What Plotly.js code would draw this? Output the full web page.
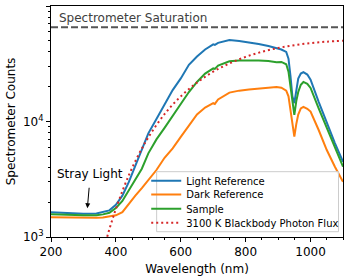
<!DOCTYPE html>
<html>
<head>
<meta charset="utf-8">
<script src="https://cdn.plot.ly/plotly-3.0.1.min.js"></script>
<style>html,body{margin:0;padding:0;background:#fff;}#chart{width:346px;height:278px;}</style>
</head>
<body>
<div id="chart"></div>
<script>
// Wavelength grid (nm) for measured spectra
const wavelength = [200, 250, 300, 340, 360, 380, 400, 420, 440, 460, 480, 500, 525, 550, 575, 600, 625, 650, 675, 700, 705, 715, 750, 780, 810, 840, 870, 885, 895, 910, 925, 932, 938, 944, 950, 956, 962, 970, 978, 990, 1000, 1025, 1050, 1075, 1100];
const lightReference = [1640, 1610, 1590, 1600, 1640, 1700, 1900, 2280, 3000, 4150, 5750, 7900, 10500, 14200, 18700, 23600, 31000, 36500, 42000, 46500, 46000, 48000, 50800, 49800, 48500, 46800, 45000, 44000, 43500, 42000, 40000, 35000, 25000, 16500, 14400, 19000, 23500, 26000, 26800, 25500, 23000, 14800, 9700, 6500, 4480];
const darkReference = [1480, 1470, 1460, 1465, 1475, 1500, 1540, 1640, 1950, 2280, 2650, 3100, 3800, 4850, 5850, 7350, 9200, 11500, 13200, 14400, 14200, 15500, 17800, 18500, 18900, 19300, 19600, 19700, 19900, 19600, 18500, 16500, 13000, 9500, 7400, 9500, 11500, 13000, 13400, 12900, 12200, 8440, 5660, 4060, 3010];
const sample = [1570, 1550, 1540, 1545, 1570, 1620, 1780, 2050, 2550, 3150, 3900, 5300, 7000, 8800, 11200, 14200, 18000, 22000, 26000, 28800, 28500, 30500, 33200, 33800, 34000, 33700, 33400, 33000, 32600, 32800, 31300, 27000, 20000, 14000, 11400, 15000, 18000, 20800, 22000, 21200, 19500, 13000, 8730, 6050, 4060];
// 3100 K blackbody photon flux (scaled)
const bbWavelength = [365, 373, 380, 390, 400, 420, 440, 460, 480, 500, 550, 600, 650, 700, 750, 800, 850, 900, 950, 1000, 1050, 1100];
const bbFlux = [830, 1000, 1170, 1440, 1750, 2500, 3430, 4540, 5830, 7300, 11600, 16500, 21700, 27000, 31800, 36300, 40100, 43300, 45800, 47700, 49100, 50000];
// Saturation level
const saturationX = [200, 1100];
const saturationY = [65535, 65535];
const seriesNames = ["Light Reference", "Dark Reference", "Sample", "3100 K Blackbody Photon Flux"];
const xTicks = [200, 400, 600, 800, 1000];
const yTicks = [1000, 10000, 100000];
const yTickText = ["10<sup>3</sup>", "10<sup>4</sup>", "10<sup>5</sup>"];
const yMinor = [2000,3000,4000,5000,6000,7000,8000,9000,20000,30000,40000,50000,60000,70000,80000,90000];

const font = "DejaVu Sans, sans-serif";
const traces = [
  {x: saturationX, y: saturationY, mode: "lines", showlegend: false, hoverinfo: "skip",
   line: {color: "#555555", width: 2, dash: "7px,3px"}},
  {x: wavelength, y: lightReference, name: seriesNames[0], mode: "lines", legend: "legend", line: {color: "#1f77b4", width: 2}},
  {x: wavelength, y: darkReference, name: seriesNames[1], mode: "lines", legend: "legend2", line: {color: "#ff7f0e", width: 2}},
  {x: wavelength, y: sample, name: seriesNames[2], mode: "lines", legend: "legend3", line: {color: "#2ca02c", width: 2}},
  {x: bbWavelength, y: bbFlux, name: seriesNames[3], mode: "lines", legend: "legend4", line: {color: "#d62728", width: 2, dash: "2px,3px", shape: "spline"}}
];
function leg(yc) {
  return {x: 0.325, y: yc, xanchor: "left", yanchor: "middle", bgcolor: "rgba(0,0,0,0)", borderwidth: 0,
    font: {family: font, size: 10, color: "#000"}, itemwidth: 30};
}
const layout = {
  width: 346, height: 278,
  margin: {l: 51, r: 2, t: 6, b: 41},
  paper_bgcolor: "#fff", plot_bgcolor: "#fff",
  font: {family: font, size: 12, color: "#000"},
  showlegend: true,
  legend: leg(0.2437), legend2: leg(0.184), legend3: leg(0.1225), legend4: leg(0.0619),
  shapes: [
    {type: "rect", xref: "paper", yref: "paper", x0: 0.3618, x1: 0.9846, y0: 0.0229, y1: 0.2827,
     fillcolor: "rgba(255,255,255,0.8)", line: {color: "#cccccc", width: 1}, layer: "above"}
  ],
  xaxis: {range: [200, 1100], tickmode: "array", tickvals: xTicks, ticks: "outside", ticklen: 4, tickwidth: 1,
    tickcolor: "#000", showline: true, mirror: true, linecolor: "#000", linewidth: 1, showgrid: false, zeroline: false,
    tickfont: {size: 12}, minor: {dtick: 50, tick0: 200, ticks: "outside", ticklen: 2, tickcolor: "#000", showgrid: false},
    title: {text: "Wavelength (nm)", font: {size: 12}, standoff: 6}},
  yaxis: {type: "log", range: [3, 5], tickmode: "array", tickvals: yTicks, ticktext: yTickText, ticks: "outside",
    ticklen: 4, tickwidth: 1, tickcolor: "#000", showline: true, mirror: true, linecolor: "#000", linewidth: 1,
    showgrid: false, zeroline: false, tickfont: {size: 12},
    minor: {tickmode: "array", tickvals: yMinor, ticks: "outside", ticklen: 2, tickcolor: "#000", showgrid: false},
    title: {text: "Spectrometer Counts", font: {size: 12}, standoff: 4}},
  annotations: [
    {x: 220, y: Math.log10(65535), xref: "x", yref: "y", text: "Spectrometer Saturation", showarrow: false,
     xanchor: "left", yanchor: "bottom", yshift: 0, font: {family: font, size: 12, color: "#404040"}},
    {x: 312, y: Math.log10(1773), xref: "x", yref: "y", text: "Stray Light", showarrow: true,
     ax: 3, ay: -34, arrowhead: 2, arrowsize: 1, arrowwidth: 1, arrowcolor: "#000", startstandoff: 5,
     font: {family: font, size: 12, color: "#000"}}
  ]
};
Plotly.newPlot("chart", traces, layout, {displayModeBar: false, staticPlot: true});
</script>
</body>
</html>
